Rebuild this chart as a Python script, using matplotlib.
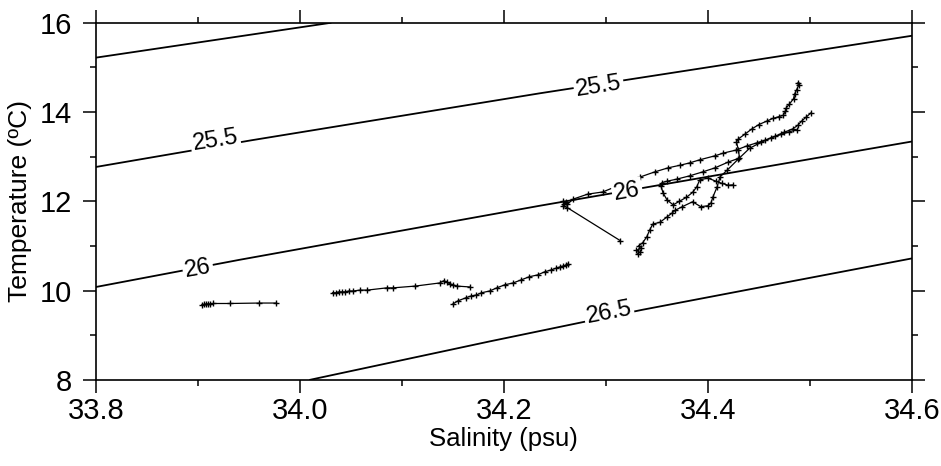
import numpy as np
import matplotlib
matplotlib.use("Agg")
import matplotlib.pyplot as plt
from matplotlib.ticker import MultipleLocator, FormatStrFormatter

plt.rcParams["font.family"] = ["Liberation Sans", "DejaVu Sans"]

# ---- isopycnals (sigma-t) ----
sig25_S = [33.80, 34.03]
sig25_T = [15.22, 16.00]
sig255_S = [33.80, 33.953, 34.235, 34.60]
sig255_T = [12.77, 13.37, 14.42, 15.71]
sig26_S = [33.80, 33.941, 34.235, 34.60]
sig26_T = [10.08, 10.69, 11.90, 13.34]
sig265_S = [34.01, 34.186, 34.336, 34.60]
sig265_T = [8.00, 8.86, 9.57, 10.72]

# contour label positions (S, T, text)
clabels = [(33.917, 13.37, "25.5"), (34.293, 14.58, "25.5"),
           (33.900, 10.48, "26"), (34.321, 12.21, "26"),
           (34.303, 9.50, "26.5")]

# ---- T-S profiles ----
prof_a_S = [33.904, 33.906, 33.908, 33.910, 33.912, 33.915, 33.931, 33.960, 33.977]
prof_a_T = [9.68, 9.69, 9.70, 9.70, 9.70, 9.71, 9.71, 9.72, 9.72]

prof_b_S = [34.032, 34.035, 34.038, 34.041, 34.044, 34.048, 34.052, 34.059, 34.066,
            34.085, 34.091, 34.113, 34.137, 34.141, 34.144, 34.147, 34.150, 34.154, 34.167]
prof_b_T = [9.95, 9.95, 9.97, 9.97, 9.97, 9.99, 9.99, 10.01, 10.01,
            10.06, 10.06, 10.10, 10.17, 10.22, 10.19, 10.15, 10.13, 10.10, 10.08]

prof_c_S = [34.150, 34.155, 34.163, 34.168, 34.173, 34.178, 34.186, 34.193, 34.201, 34.209,
            34.217, 34.225, 34.233, 34.240, 34.246, 34.251, 34.255, 34.258, 34.261, 34.263]
prof_c_T = [9.70, 9.77, 9.84, 9.88, 9.90, 9.95, 9.99, 10.06, 10.13, 10.17,
            10.24, 10.31, 10.35, 10.42, 10.46, 10.50, 10.53, 10.55, 10.57, 10.60]

prof_d_S = [34.314, 34.262, 34.258, 34.259, 34.261, 34.258, 34.262, 34.268, 34.282, 34.297,
            34.314, 34.333, 34.348, 34.361, 34.373, 34.382, 34.392, 34.407, 34.415, 34.428,
            34.438, 34.448, 34.456, 34.466, 34.475, 34.483, 34.488, 34.492, 34.496, 34.501]
prof_d_T = [11.12, 11.86, 11.90, 11.95, 11.98, 12.00, 11.93, 12.05, 12.16, 12.21,
            12.37, 12.54, 12.66, 12.75, 12.81, 12.86, 12.93, 13.02, 13.08, 13.15,
            13.24, 13.31, 13.37, 13.46, 13.55, 13.62, 13.70, 13.80, 13.88, 13.98]

prof_e_S = [34.488, 34.489, 34.487, 34.485, 34.484, 34.480, 34.477, 34.476, 34.474, 34.470,
            34.464, 34.458, 34.450, 34.443, 34.436, 34.430, 34.428, 34.430, 34.431, 34.420,
            34.407, 34.395, 34.382, 34.370, 34.360, 34.355, 34.354, 34.356, 34.360, 34.366,
            34.372, 34.379, 34.385, 34.389, 34.392, 34.400, 34.408, 34.414, 34.420, 34.425]
prof_e_T = [14.65, 14.60, 14.50, 14.40, 14.30, 14.18, 14.10, 14.02, 13.93, 13.90,
            13.86, 13.80, 13.72, 13.62, 13.50, 13.40, 13.33, 13.15, 12.97, 12.88,
            12.75, 12.66, 12.57, 12.50, 12.45, 12.42, 12.35, 12.19, 12.03, 11.92,
            12.00, 12.09, 12.20, 12.32, 12.48, 12.52, 12.45, 12.40, 12.36, 12.37]

prof_f_S = [34.331, 34.333, 34.330, 34.334, 34.332, 34.336, 34.340, 34.343, 34.346, 34.353,
            34.360, 34.365, 34.368, 34.375, 34.385, 34.393, 34.400, 34.403, 34.405, 34.409,
            34.412, 34.419, 34.430, 34.441, 34.452, 34.462, 34.472, 34.480, 34.487]
prof_f_T = [10.82, 10.86, 10.90, 10.95, 11.00, 11.07, 11.20, 11.36, 11.49, 11.53,
            11.65, 11.74, 11.80, 11.88, 11.99, 11.88, 11.90, 11.96, 12.10, 12.32,
            12.55, 12.70, 12.95, 13.19, 13.32, 13.42, 13.50, 13.56, 13.60]

profiles = [(prof_a_S, prof_a_T), (prof_b_S, prof_b_T), (prof_c_S, prof_c_T),
            (prof_d_S, prof_d_T), (prof_e_S, prof_e_T), (prof_f_S, prof_f_T)]

fig = plt.figure(figsize=(9.41, 4.66), dpi=100)
ax = fig.add_axes([0.102, 0.185, 0.867, 0.766])

for s, t in [(sig25_S, sig25_T), (sig255_S, sig255_T),
             (sig26_S, sig26_T), (sig265_S, sig265_T)]:
    ax.plot(s, t, color="k", lw=1.3, zorder=2)

for s, t in profiles:
    ax.plot(s, t, color="k", lw=0.9, marker="+", ms=5, mew=1.0, zorder=3)

rot = {"25.5": 9, "26": 10, "26.5": 11}
for s, t, txt in clabels:
    ax.text(s, t, txt, fontsize=17, ha="center", va="center", rotation=rot[txt],
            rotation_mode="anchor", zorder=4,
            bbox=dict(fc="white", ec="none", pad=1.5))

ax.set_xlim(33.8, 34.6)
ax.set_ylim(8, 16)
ax.xaxis.set_major_locator(MultipleLocator(0.2))
ax.xaxis.set_minor_locator(MultipleLocator(0.1))
ax.xaxis.set_major_formatter(FormatStrFormatter("%.1f"))
ax.yaxis.set_major_locator(MultipleLocator(2))
ax.yaxis.set_minor_locator(MultipleLocator(1))
ax.tick_params(which="both", direction="out", top=True, right=True,
               labeltop=False, labelright=False, width=1.1)
ax.tick_params(which="major", length=9.5, labelsize=21)
ax.tick_params(axis="x", which="major", pad=3)
ax.tick_params(axis="y", which="major", pad=8)
ax.tick_params(which="minor", length=4.5)
for sp in ax.spines.values():
    sp.set_linewidth(1.2)

ax.set_xlabel("Salinity (psu)", fontsize=18.5, labelpad=1)
ax.set_ylabel("Temperature (ºC)", fontsize=19, labelpad=5)

fig.savefig("out.png", dpi=100)
